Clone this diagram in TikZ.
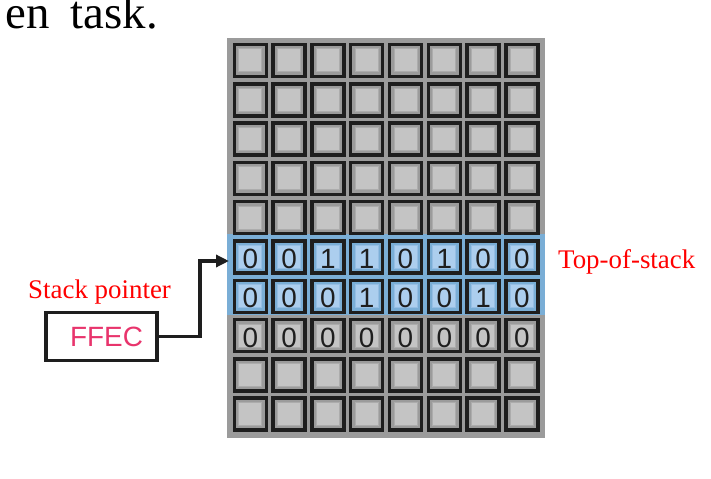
\documentclass[tikz,border=0pt]{standalone}
\usepackage{fontspec}
\setmainfont{Liberation Serif}
\newfontfamily\arialfont{Liberation Sans}
\usetikzlibrary{arrows.meta,positioning}

\definecolor{cellframe}{RGB}{30,30,30}
\definecolor{panelgray}{RGB}{155,155,155}
\definecolor{cellgray}{RGB}{196,196,196}
\definecolor{celledge}{RGB}{172,172,172}
\definecolor{bandblue}{RGB}{122,174,214}
\definecolor{cellblue}{RGB}{172,206,238}
\definecolor{cellblueedge}{RGB}{150,190,228}
\definecolor{ptrpink}{RGB}{232,52,108}

\begin{document}
\begin{tikzpicture}[x=1bp,y=-1bp,
	cellbox/.style={draw=cellframe,line width=3.5bp,minimum size=32bp,inner sep=0pt},
	cellin/.style={draw=celledge,fill=cellgray,line width=1bp,minimum size=23bp,inner sep=0pt},
	bluein/.style={cellin,draw=cellblueedge,fill=cellblue},
	bitlabel/.style={font=\arialfont\fontsize{28}{28}\selectfont,text=cellframe,inner sep=0pt,yshift=-2bp},
	redlabel/.style={font=\fontsize{27}{27}\selectfont,text=red,inner sep=0pt}]
			\useasboundingbox (0,0) rectangle (711,479);
			
			\node[anchor=base east,inner sep=0pt,font=\fontsize{47}{47}\selectfont] (title) at (158,29) {en\hspace{0.45em}task.};
			
			\fill[panelgray] (227,38) rectangle (545,438);
			\fill[bandblue] (227,234.5) rectangle (545,314.5);
			
			% memory cells
			\foreach \r in {0,...,9}{
				\ifnum\r=5 \def\instyle{bluein}\else\ifnum\r=6 \def\instyle{bluein}\else\def\instyle{cellin}\fi\fi
				\foreach \c in {0,...,7}{
					\node[cellbox] (c-\r-\c) at (250.3+38.8*\c,60.5+39.3*\r) {};
					\node[\instyle] (in-\r-\c) at (c-\r-\c) {};
				}
			}
			
			\foreach \bits [count=\r from 5] in {{0,0,1,1,0,1,0,0},{0,0,0,1,0,0,1,0},{0,0,0,0,0,0,0,0}}
				\foreach \b [count=\c from 0] in \bits
					\node[bitlabel] at (in-\r-\c) {\b};
			
			\node[redlabel,anchor=base west] (tos) at (558,269) {Top-of-stack};
			\node[redlabel,anchor=base west] (splabel) at (28,298) {Stack pointer};
			
			\node[draw=cellframe,line width=3.5bp,minimum width=111bp,minimum height=48bp,inner sep=0pt,
				font=\arialfont\fontsize{28}{28}\selectfont,text=ptrpink] (ptr) at (101.5,336.5) {\hspace*{10bp}FFEC};
			
			\coordinate (tip) at (229,261);
			\draw[cellframe,line width=3.5bp,-{Triangle[length=13bp,width=12bp]}] (ptr.east) -| ([xshift=-29bp]tip) -- (tip);
			\end{tikzpicture}
\end{document}
